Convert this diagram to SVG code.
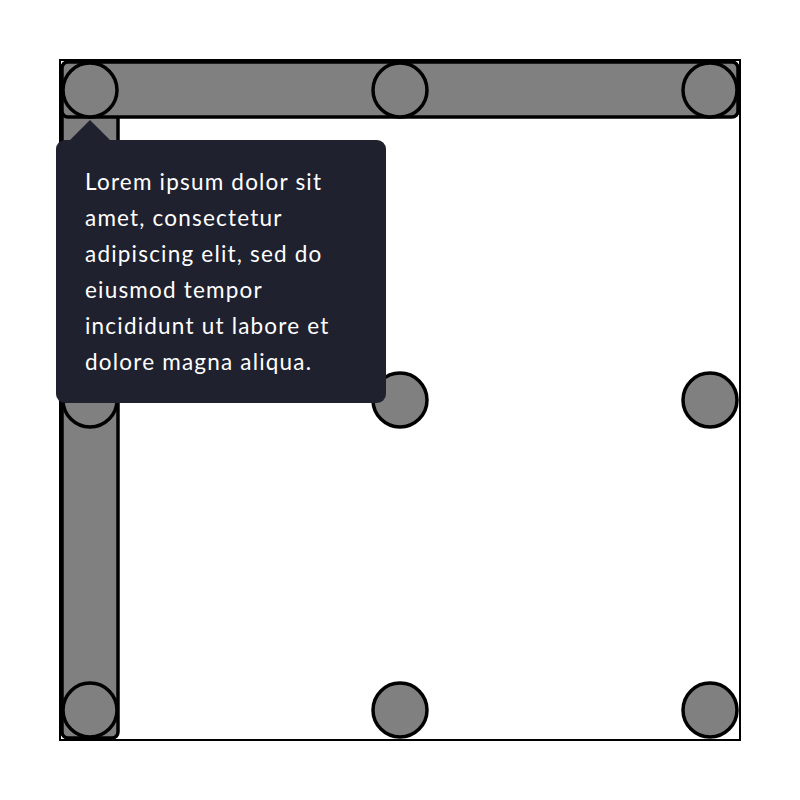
<svg xmlns="http://www.w3.org/2000/svg" width="800" height="800" viewBox="0 0 800 800">
<style>
.bar{fill:#808080;stroke:#000;stroke-width:3.5}
.node{fill:#808080;stroke:#000;stroke-width:3.5}
.tip{fill:#1f212f}
.tt{font-family:Lato,"Noto Sans",sans-serif;font-size:22.5px;fill:#ffffff;letter-spacing:1.2px}
</style>
<rect x="0" y="0" width="800" height="800" fill="#fff"/>
<rect x="60" y="60" width="680" height="680" fill="none" stroke="#000" stroke-width="2"/>
<g id="connectors">
<rect class="bar" x="62" y="62" width="56" height="676" rx="6"/>
<rect class="bar" x="62" y="62" width="676" height="55" rx="6"/>
</g>
<g id="n00"><circle class="node" cx="90" cy="90" r="27"/></g>
<g id="n01"><circle class="node" cx="400" cy="90" r="27"/></g>
<g id="n02"><circle class="node" cx="710" cy="90" r="27"/></g>
<g id="n10"><circle class="node" cx="90" cy="400" r="27"/></g>
<g id="n11"><circle class="node" cx="400" cy="400" r="27"/></g>
<g id="n12"><circle class="node" cx="710" cy="400" r="27"/></g>
<g id="n20"><circle class="node" cx="90" cy="710" r="27"/></g>
<g id="n21"><circle class="node" cx="400" cy="710" r="27"/></g>
<g id="n22"><circle class="node" cx="710" cy="710" r="27"/></g>
<g id="tooltip">
<path class="tip" d="M90 120 L111 141 L69 141 Z"/>
<rect class="tip" x="56" y="140" width="330" height="263" rx="9"/>
<text class="tt" x="85" y="190">Lorem ipsum dolor sit</text>
<text class="tt" x="85" y="226">amet, consectetur</text>
<text class="tt" x="85" y="262">adipiscing elit, sed do</text>
<text class="tt" x="85" y="298">eiusmod tempor</text>
<text class="tt" x="85" y="334">incididunt ut labore et</text>
<text class="tt" x="85" y="370">dolore magna aliqua.</text>
</g>
</svg>
